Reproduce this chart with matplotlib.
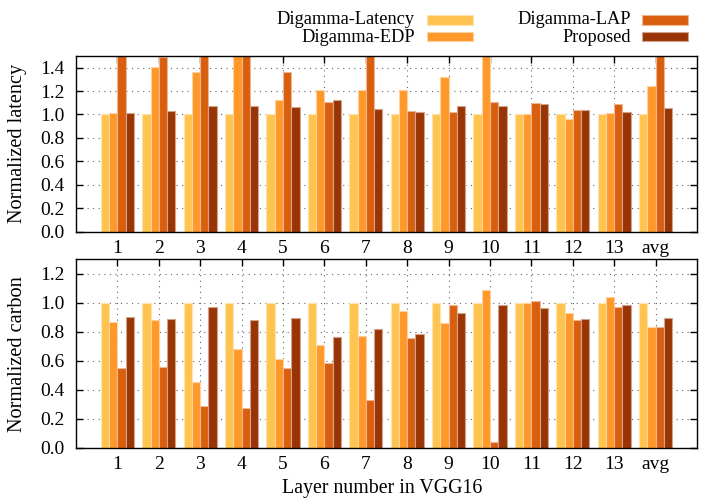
import numpy as np
import matplotlib
matplotlib.use("Agg")
import matplotlib.pyplot as plt
from matplotlib.patches import Rectangle

categories = ["1", "2", "3", "4", "5", "6", "7", "8", "9", "10", "11", "12", "13", "avg"]
series_names = ["Digamma-Latency", "Digamma-EDP", "Digamma-LAP", "Proposed"]
colors = ["#fec44f", "#fe9929", "#d95f0e", "#993404"]

# Normalized latency (values above 1.5 are clipped in the reference)
lat_latency = [1.0, 1.0, 1.0, 1.0, 1.0, 1.0, 1.0, 1.0, 1.0, 1.0, 1.0, 1.0, 1.0, 1.0]
lat_edp     = [1.01, 1.41, 1.36, 1.9, 1.12, 1.21, 1.21, 1.21, 1.32, 1.8, 1.0, 0.96, 1.01, 1.24]
lat_lap     = [2.0, 1.49, 1.9, 2.2, 1.36, 1.11, 1.8, 1.03, 1.02, 1.11, 1.095, 1.035, 1.09, 1.7]
lat_prop    = [1.01, 1.03, 1.075, 1.075, 1.06, 1.125, 1.045, 1.025, 1.075, 1.07, 1.09, 1.035, 1.025, 1.055]

# Normalized carbon
car_latency = [1.0, 1.0, 1.0, 1.0, 1.0, 1.0, 1.0, 1.0, 1.0, 1.0, 1.0, 1.0, 1.0, 1.0]
car_edp     = [0.867, 0.879, 0.454, 0.68, 0.612, 0.708, 0.769, 0.947, 0.858, 1.086, 1.0, 0.929, 1.043, 0.833]
car_lap     = [0.549, 0.559, 0.29, 0.276, 0.549, 0.584, 0.331, 0.756, 0.988, 0.04, 1.016, 0.881, 0.97, 0.833]
car_prop    = [0.902, 0.888, 0.97, 0.881, 0.895, 0.762, 0.818, 0.785, 0.927, 0.982, 0.963, 0.89, 0.988, 0.897]

plt.rcParams['font.family'] = ['Liberation Serif', 'DejaVu Serif']
plt.rcParams['font.size'] = 14

W, H = 702, 499
fig = plt.figure(figsize=(W/100, H/100), dpi=100)
L, R = 76, 697
ax1 = fig.add_axes([L/W, 1-231.5/H, (R-L)/W, 175.5/H])
ax2 = fig.add_axes([L/W, 1-448.0/H, (R-L)/W, 188.7/H])

def lighten(c, f=0.55):
    r, g, b = matplotlib.colors.to_rgb(c)
    return (r + (1-r)*f, g + (1-g)*f, b + (1-b)*f)

x = np.arange(len(categories))
offsets = [-0.3, -0.1, 0.1, 0.3]
bw = 0.2

def draw(ax, data, ymax, yticks, ylabel):
    for i, (vals, c) in enumerate(zip(data, colors)):
        ax.bar(x + offsets[i], vals, width=bw, color=c,
               edgecolor=lighten(c), linewidth=0.8, zorder=3)
    ax.set_xlim(-1, 14)
    ax.set_ylim(0, ymax)
    ax.set_xticks(x)
    ax.set_xticklabels(categories)
    ax.set_yticks(yticks)
    ax.set_yticklabels([f"{t:.1f}" for t in yticks])
    ax.tick_params(direction='in', top=True, right=True, length=5, width=1,
                   labelsize=14)
    ax.tick_params(axis='y', pad=8)
    ax.tick_params(axis='x', pad=6)
    ax.grid(True, linestyle=(0, (1, 4)), color='#666666', linewidth=0.8, zorder=0)
    ax.set_axisbelow(True)
    for s in ax.spines.values():
        s.set_linewidth(1.0)
        s.set_zorder(5)
    ax.set_ylabel(ylabel, fontsize=14.6)
    ax.yaxis.set_label_coords((27 - L)/(R - L), 0.5)

draw(ax1, [lat_latency, lat_edp, lat_lap, lat_prop], 1.5,
     [0.0, 0.2, 0.4, 0.6, 0.8, 1.0, 1.2, 1.4], "Normalized latency")
draw(ax2, [car_latency, car_edp, car_lap, car_prop], 1.3,
     [0.0, 0.2, 0.4, 0.6, 0.8, 1.0, 1.2], "Normalized carbon")
ax2.set_xlabel("Layer number in VGG16", fontsize=14.3)
ax2.xaxis.set_label_coords((382 - L)/(R - L), -(478.5 - 448.0)/188.7)

# Legend (gnuplot style: right-aligned text, sample to the right)
text_right = [415/W, 415/W, 631/W, 631/W]
box_left = [427/W, 427/W, 642/W, 642/W]
rows_y = [1-20/H, 1-37/H, 1-20/H, 1-37/H]
for k in range(4):
    fig.text(text_right[k], rows_y[k], series_names[k], ha='right', va='center',
             fontsize=13.2)
    fig.patches.append(Rectangle((box_left[k], rows_y[k] - 4.5/H), 45.5/W, 9/H,
                                 transform=fig.transFigure, facecolor=colors[k],
                                 edgecolor=lighten(colors[k]), linewidth=0.8))

fig.savefig("out.png", dpi=100)
